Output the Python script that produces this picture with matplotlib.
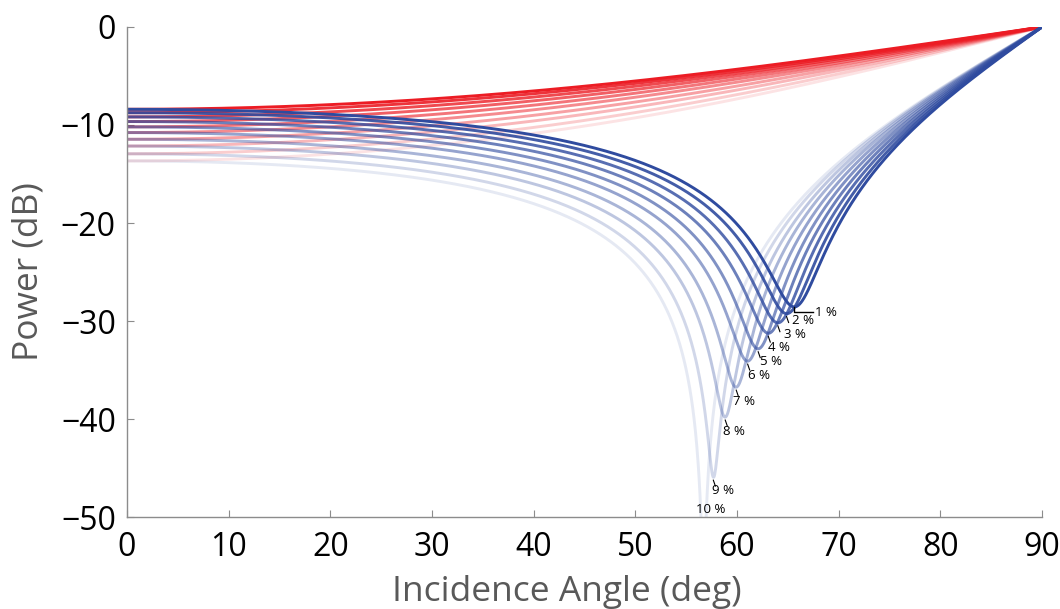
import numpy as np
import matplotlib
matplotlib.use("Agg")
import matplotlib.pyplot as plt

plt.rcParams['font.family'] = ['Open Sans', 'DejaVu Sans']

# moisture levels and complex permittivity (eps' - j eps'')
# (eps' from the normal-incidence level / Brewster angle, eps'' from dip depth)
moisture = [1, 2, 3, 4, 5, 6, 7, 8, 9, 10]
eps_real = [4.81, 4.50, 4.17, 3.85, 3.54, 3.25, 2.97, 2.73, 2.50, 2.32]
eps_imag = [0.91, 0.80, 0.68, 0.57, 0.45, 0.37, 0.26, 0.176, 0.084, 0.026]
labels = ['%d %%' % m for m in moisture]

# label text positions (deg, dB)
label_x = [67.7, 65.4, 64.6, 63.1, 62.3, 61.1, 59.6, 58.6, 57.5, 56.0]
label_y = [-29.1, -29.9, -31.35, -32.75, -34.1, -35.6, -38.2, -41.3, -47.3, -49.2]

red = '#ec1c24'
blue = '#2f4b9f'

theta = np.linspace(0, 90, 2000)


def reflectivity(eps, th):
    c = np.cos(np.radians(th))
    s2 = np.sin(np.radians(th)) ** 2
    root = np.sqrt(eps - s2 + 0j)
    rh = (c - root) / (c + root)
    rv = (eps * c - root) / (eps * c + root)
    with np.errstate(divide='ignore'):
        return 10 * np.log10(np.abs(rh) ** 2), 10 * np.log10(np.abs(rv) ** 2)


fig = plt.figure(figsize=(10.6, 6.09), dpi=100)
ax = fig.add_axes([0.1198, 0.151, 0.8632, 0.8047])

n = len(moisture)
alphas = np.linspace(1.0, 0.12, n)
curves = []
for i in range(n):
    eps = eps_real[i] - 1j * eps_imag[i]
    curves.append(reflectivity(eps, theta))

for i in reversed(range(n)):
    ax.plot(theta, curves[i][0], color=red, alpha=alphas[i], lw=2.1, solid_capstyle='butt')
for i in reversed(range(n)):
    ax.plot(theta, curves[i][1], color=blue, alpha=alphas[i], lw=2.1, solid_capstyle='butt')

# dip labels
for i in range(n):
    rv = curves[i][1]
    k = np.argmin(rv)
    xd, yd = theta[k], max(rv[k], -50)
    if i == 0:
        ax.plot([xd, xd, label_x[i] - 0.2], [yd, label_y[i], label_y[i]], color='black', lw=1)
    elif i < 9:
        ax.plot([xd, xd + 0.2], [yd - 0.3, yd - 0.9], color='black', lw=0.8)
    ax.text(label_x[i], label_y[i], labels[i], fontsize=9.5, ha='left', va='center')

ax.set_xlim(0, 90)
ax.set_ylim(-50, 0)
ax.set_xticks(range(0, 91, 10))
ax.set_yticks(range(-50, 1, 10))
ax.set_yticklabels(['\u2212%d' % -v if v else '0' for v in range(-50, 1, 10)])
for side in ['top', 'right']:
    ax.spines[side].set_visible(False)
for side in ['left', 'bottom']:
    ax.spines[side].set_color('#8c8c8c')
    ax.spines[side].set_linewidth(1.0)
ax.tick_params(direction='in', length=5, color='#8c8c8c', labelsize=23)
ax.tick_params(axis='x', pad=10)
ax.tick_params(axis='y', pad=8)
ax.set_xlabel('Incidence Angle (deg)', fontsize=25.5, color='#595959')
ax.set_ylabel('Power (dB)', fontsize=25.5, color='#595959')
ax.xaxis.set_label_coords(0.481, -0.118, transform=ax.transAxes)
ax.yaxis.set_label_coords(-0.108, 0.5, transform=ax.transAxes)
ax.xaxis.label.set_va('top')
ax.yaxis.label.set_va('center')

fig.savefig('out.png', dpi=100)
